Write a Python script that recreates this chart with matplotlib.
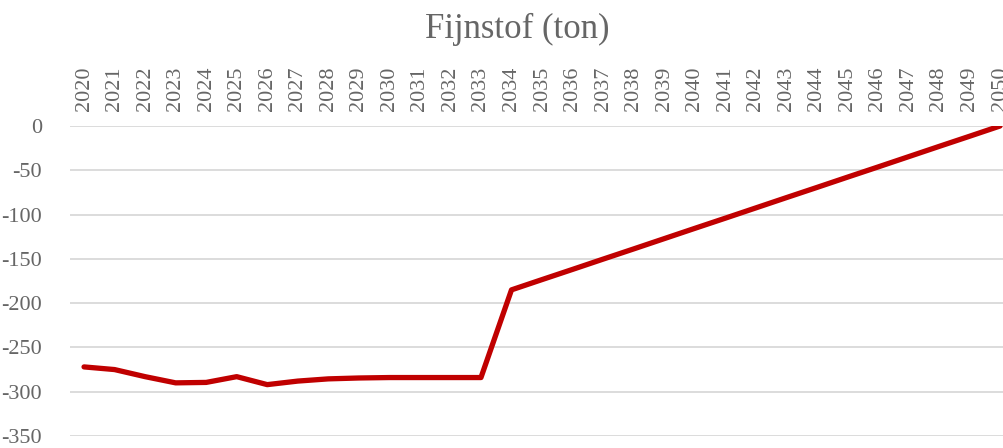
import matplotlib
matplotlib.use("Agg")
import matplotlib.pyplot as plt

years = list(range(2020, 2051))
values = [-272, -275, -283, -290, -289.5, -283, -292, -288, -285.5, -284.5, -284, -284, -284, -284,
          -185, -173.4, -161.9, -150.3, -138.8, -127.2, -115.6, -104.1, -92.5, -80.9, -69.4,
          -57.8, -46.3, -34.7, -23.1, -11.6, 0]
yticks = [0, -50, -100, -150, -200, -250, -300, -350]
title = "Fijnstof (ton)"

plt.rcParams['font.family'] = ['Liberation Serif', 'DejaVu Serif']
fig = plt.figure(figsize=(10.04, 4.48), dpi=100)
ax = fig.add_axes([70/1004, 1 - 436/448, (1004-70)/1004, (436-126)/448])
ax.plot(years, values, color='#c00000', linewidth=3.8, solid_capstyle='round', zorder=3)
ax.set_xlim(2019.54, 2050.13)
ax.set_ylim(-350, 0)
ax.set_yticks(yticks)
ax.set_yticklabels([str(v) for v in yticks])
ax.set_xticks(years)
ax.set_xticklabels([str(y) for y in years], rotation=90)
ax.xaxis.tick_top()
ax.tick_params(axis='both', length=0, labelsize=16, colors='#666666')
ax.tick_params(axis='x', pad=11)
ax.tick_params(axis='y', pad=20)
for lbl in ax.get_yticklabels():
    lbl.set_horizontalalignment('right')
ax.grid(axis='y', color='#d9d9d9', linewidth=1.3)
ax.set_axisbelow(True)
for s in ax.spines.values():
    s.set_visible(False)
fig.text(517/1004, 1 - 29/448, title, ha='center', va='center', fontsize=25, color='#666666')
fig.savefig("out.png", dpi=100)
